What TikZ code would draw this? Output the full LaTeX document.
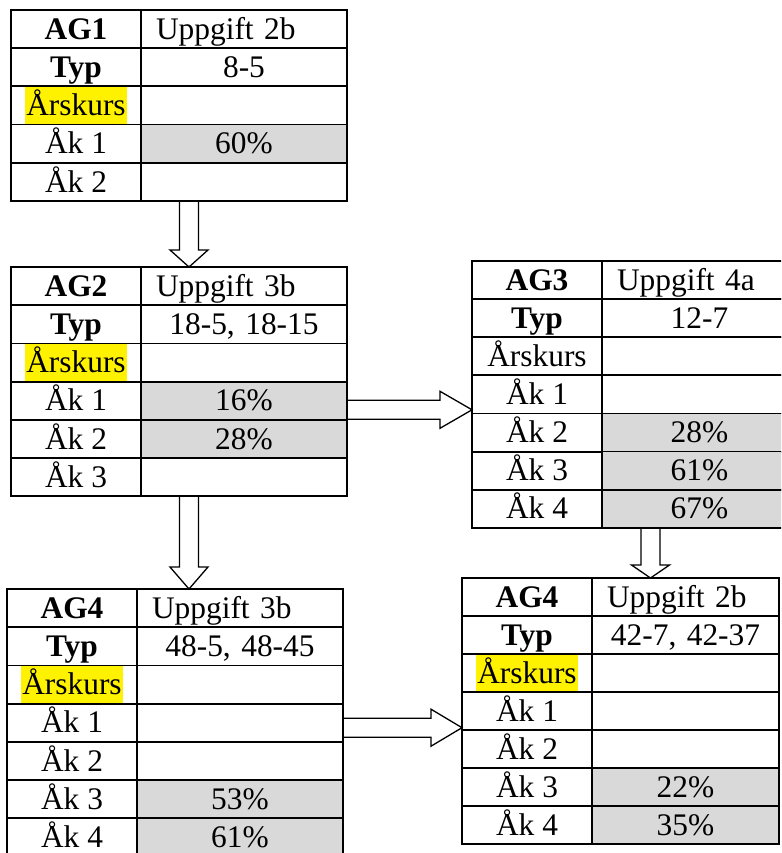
\documentclass[tikz,border=0pt]{standalone}
\usepackage{fontspec}
\setmainfont{Liberation Serif}
\usetikzlibrary{calc,positioning}
\definecolor{cellgrey}{RGB}{217,217,217}

\begin{document}
\begin{tikzpicture}[x=1pt, y=-1pt,
    every node/.style={font=\fontsize{31.4}{36}\selectfont},
    cell/.style={draw, line width=1.8pt, anchor=north west, inner sep=0pt, outer sep=0pt,
        minimum height=38.2pt, text height=20.5pt, text depth=0pt},
    lcell/.style={cell, minimum width=130pt},
    rcell/.style={cell, inner xsep=15pt, text width=#1, align=center},
    whitecell/.style={},
    greycell/.style={fill=cellgrey},
    titlecell/.style={align=left},
    marked/.style={fill=yellow, inner xsep=1.5pt, inner ysep=0pt, outer sep=0pt,
        minimum height=36.4pt, text height=20.5pt, text depth=0pt},
    downarrow/.style={line width=1.3pt, to path={
        ($(\tikztostart)+(-9.5,0)$) -- ($(\tikztotarget)+(-9.5,-#1)$)
        -- ($(\tikztotarget)+(-19,-#1)$) -- (\tikztotarget)
        -- ($(\tikztotarget)+(19,-#1)$) -- ($(\tikztotarget)+(9.5,-#1)$)
        -- ($(\tikztostart)+(9.5,0)$) -- cycle}},
    rightarrow/.style={line width=1.3pt, to path={
        ($(\tikztostart)+(0,-9.5)$) -- ($(\tikztotarget)+(-#1,-9.5)$)
        -- ($(\tikztotarget)+(-#1,-18.5)$) -- (\tikztotarget)
        -- ($(\tikztotarget)+(-#1,18.5)$) -- ($(\tikztotarget)+(-#1,9.5)$)
        -- ($(\tikztostart)+(0,9.5)$) -- cycle}}
]
    \clip (0,0) rectangle (781,853);

    %% AG1
    \foreach \lab/\val/\kind [count=\i] in {%
        {\textbf{AG1}}/Uppgift 2b/titlecell,
        {\textbf{Typ}}/8-5/whitecell,
        {}/{}/whitecell,
        Åk 1/60\%/greycell,
        Åk 2/{}/whitecell}
    {
        \node[lcell] (ga-l\i) at (11, {10+38.2*(\i-1)}) {\lab};
        \node[rcell=176pt, \kind] (ga-r\i) at (ga-l\i.north east) {\val};
    }
    \node[marked] (ga-y) at (ga-l3) {Årskurs};

    %% AG2
    \foreach \lab/\val/\kind [count=\i] in {%
        {\textbf{AG2}}/Uppgift 3b/titlecell,
        {\textbf{Typ}}/{18-5, 18-15}/whitecell,
        {}/{}/whitecell,
        Åk 1/16\%/greycell,
        Åk 2/28\%/greycell,
        Åk 3/{}/whitecell}
    {
        \node[lcell] (gb-l\i) at (11, {267+38.2*(\i-1)}) {\lab};
        \node[rcell=176pt, \kind] (gb-r\i) at (gb-l\i.north east) {\val};
    }
    \node[marked] (gb-y) at (gb-l3) {Årskurs};

    %% AG3
    \foreach \lab/\val/\kind [count=\i] in {%
        {\textbf{AG3}}/Uppgift 4a/titlecell,
        {\textbf{Typ}}/12-7/whitecell,
        Årskurs/{}/whitecell,
        Åk 1/{}/whitecell,
        Åk 2/28\%/greycell,
        Åk 3/61\%/greycell,
        Åk 4/67\%/greycell}
    {
        \node[lcell] (gc-l\i) at (472, {261+38.1*(\i-1)}) {\lab};
        \node[rcell=165pt, \kind] (gc-r\i) at (gc-l\i.north east) {\val};
    }

    %% AG4 (left)
    \foreach \lab/\val/\kind [count=\i] in {%
        {\textbf{AG4}}/Uppgift 3b/titlecell,
        {\textbf{Typ}}/{48-5, 48-45}/whitecell,
        {}/{}/whitecell,
        Åk 1/{}/whitecell,
        Åk 2/{}/whitecell,
        Åk 3/53\%/greycell,
        Åk 4/61\%/greycell}
    {
        \node[lcell] (gd-l\i) at (7, {589+38.2*(\i-1)}) {\lab};
        \node[rcell=176pt, \kind] (gd-r\i) at (gd-l\i.north east) {\val};
    }
    \node[marked] (gd-y) at (gd-l3) {Årskurs};

    %% AG4 (right)
    \foreach \lab/\val/\kind [count=\i] in {%
        {\textbf{AG4}}/Uppgift 2b/titlecell,
        {\textbf{Typ}}/{42-7, 42-37}/whitecell,
        {}/{}/whitecell,
        Åk 1/{}/whitecell,
        Åk 2/{}/whitecell,
        Åk 3/22\%/greycell,
        Åk 4/35\%/greycell}
    {
        \node[lcell] (ge-l\i) at (462, {578+38*(\i-1)}) {\lab};
        \node[rcell=157pt, \kind] (ge-r\i) at (ge-l\i.north east) {\val};
    }
    \node[marked] (ge-y) at (ge-l3) {Årskurs};

    %% arrows between the tables
    \coordinate (a1) at ([xshift=48pt]ga-r5.south west);
    \coordinate (a2) at ([yshift=10pt]gb-r4.south east);
    \coordinate (a3) at ([xshift=48pt]gb-r6.south west);
    \coordinate (a4) at ([xshift=48.5pt]gc-r7.south west);
    \coordinate (a5) at ([yshift=-5pt]gd-r4.east);

    \draw[downarrow=17] (a1) to (a1 |- gb-r1.north);
    \draw[rightarrow=32] (a2) to (a2 -| gc-l4.west);
    \draw[downarrow=22] (a3) to (a3 |- gd-r1.north);
    \draw[downarrow=13] (a4) to (a4 |- ge-r1.north);
    \draw[rightarrow=31] (a5) to (a5 -| ge-l4.west);
\end{tikzpicture}
\end{document}
